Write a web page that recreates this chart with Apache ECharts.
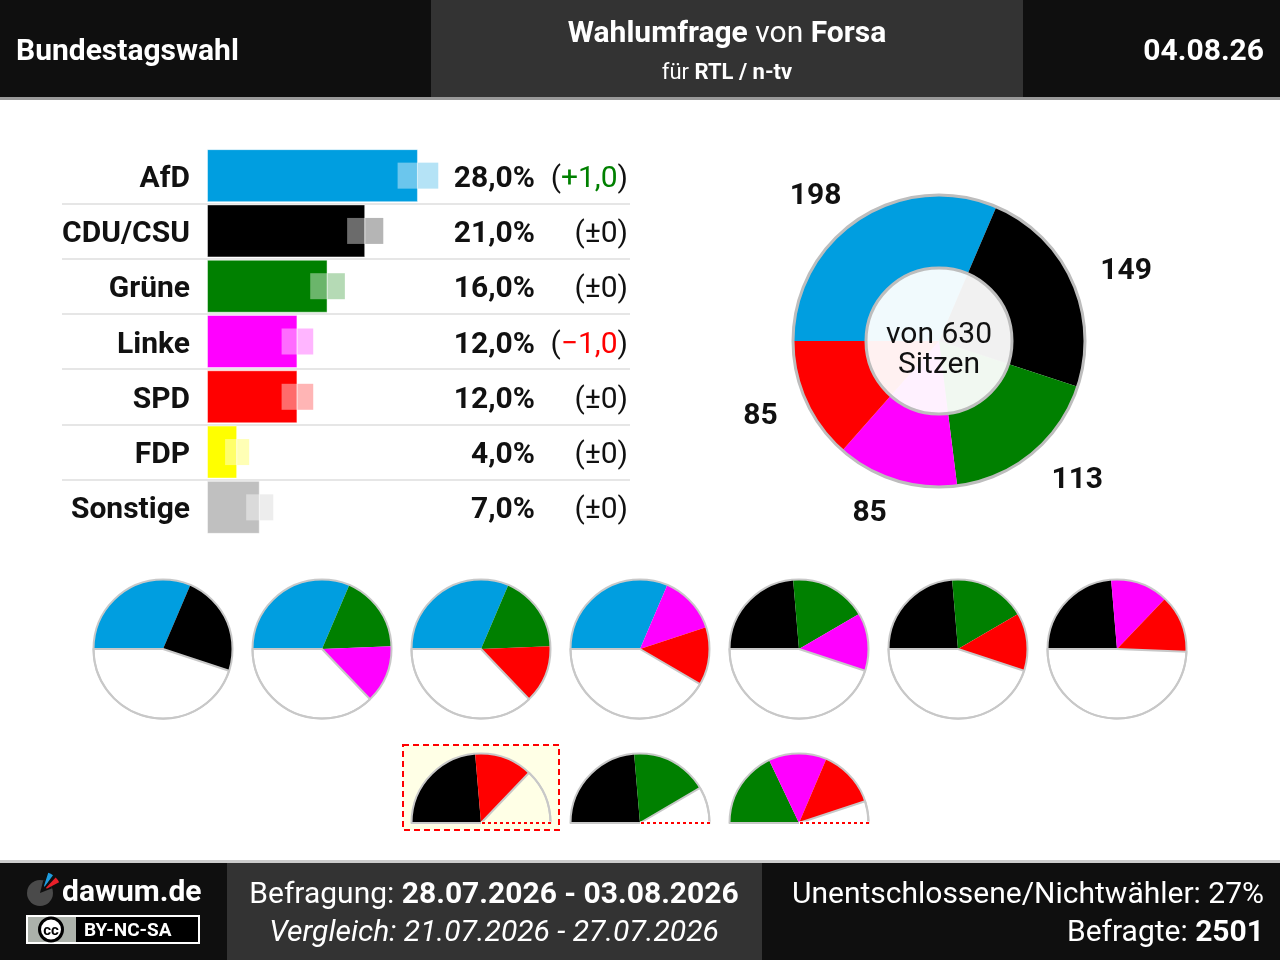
<!DOCTYPE html>
<html>
<head>
<meta charset="utf-8">
<title>Wahlumfrage Forsa</title>
<script src="https://cdn.jsdelivr.net/npm/echarts@6/dist/echarts.min.js"></script>
<style>
    html, body { margin: 0; padding: 0; background: #fff; }
    #main { width: 1280px; height: 960px; }
</style>
</head>
<body>
<div id="main"></div>
<script>
// umfragewerte
var parties = ['AfD', 'CDU/CSU', 'Grüne', 'Linke', 'SPD', 'FDP', 'Sonstige'];
var partyColors = ['#009ee0', '#000000', '#008000', '#ff00ff', '#ff0000', '#ffff00', '#c0c0c0'];
var values = [28, 21, 16, 12, 12, 4, 7];
var changes = [1, 0, 0, -1, 0, 0, 0];
var rangeLow = [25.3, 18.6, 13.7, 9.9, 9.9, 2.4, 5.2];
var rangeHigh = [30.7, 23.4, 18.3, 14.1, 14.1, 5.6, 8.8];

// sitzverteilung
var seatParties = ['AfD', 'CDU/CSU', 'Grüne', 'Linke', 'SPD'];
var seats = [198, 149, 113, 85, 85];
var totalSeats = 630;

// koalitionen mit mehrheit / ohne mehrheit
var coalitions = [
    ['AfD', 'CDU/CSU'],
    ['AfD', 'Grüne', 'Linke'],
    ['AfD', 'Grüne', 'SPD'],
    ['AfD', 'Linke', 'SPD'],
    ['CDU/CSU', 'Grüne', 'Linke'],
    ['CDU/CSU', 'Grüne', 'SPD'],
    ['CDU/CSU', 'Linke', 'SPD']
];
var minorityCoalitions = [
    ['CDU/CSU', 'SPD'],
    ['CDU/CSU', 'Grüne'],
    ['Grüne', 'Linke', 'SPD']
];
var currentGov = 0;

// kopf / fuss
var pollDate = '04.08.26';
var institute = 'Forsa';
var client = 'RTL / n-tv';
var surveyPeriod = '28.07.2026 - 03.08.2026';
var comparePeriod = '21.07.2026 - 27.07.2026';
var undecided = '27%';
var respondents = '2501';

var FONT = 'Roboto';
var FS = 30;
var myChart = echarts.init(document.getElementById('main'));

function colorOf(name) {
    return partyColors[parties.indexOf(name)];
}
function seatsOf(name) {
    return seats[seatParties.indexOf(name)];
}
function fmt(v) {
    return v.toFixed(1).replace('.', ',');
}

// kleine kuchen
var pieSeries = [];
var overlay = [];
var R = 69.5;

function coalitionPie(members, cx, cy, half, highlight) {
    var sum = 0;
    var data = members.map(function (m) {
        sum += seatsOf(m);
        return {name: m, value: seatsOf(m), itemStyle: {color: colorOf(m)}};
    });
    var full = half ? totalSeats / 2 : totalSeats;
    data.push({
        name: 'rest', value: Math.max(full - sum, 0),
        itemStyle: {color: 'rgba(0,0,0,0)', borderColor: '#c8c8c8', borderWidth: 2}
    });
    var base = {
        type: 'pie', silent: true, center: [cx, cy], radius: [0, R],
        startAngle: 180, clockwise: true,
        label: {show: false}, labelLine: {show: false}, emphasis: {disabled: true}
    };
    if (half) base.endAngle = 0;
    pieSeries.push(Object.assign({}, base, {data: data}));
    pieSeries.push(Object.assign({}, base, {
        data: [{value: 1, itemStyle: {color: 'rgba(0,0,0,0)', borderColor: '#c8c8c8', borderWidth: 2}}]
    }));
    if (half) {
        overlay.push({
            type: 'line', z: 10,
            shape: {x1: cx, y1: cy, x2: cx + R + 1, y2: cy},
            style: {stroke: highlight ? '#ffffe6' : '#fff', lineWidth: 3}
        });
        overlay.push({
            type: 'line', z: 11,
            shape: {x1: cx + 1, y1: cy, x2: cx + R + 1, y2: cy},
            style: {stroke: '#ff0000', lineWidth: 2, lineDash: [3, 3]}
        });
    }
}

coalitions.forEach(function (c, i) {
    coalitionPie(c, 163 + i * 159, 649, false, false);
});
minorityCoalitions.forEach(function (c, i) {
    coalitionPie(c, 481 + i * 159, 823, true, i === currentGov);
});

var seatData = seats.map(function (s, i) {
    return {name: seatParties[i], value: s, itemStyle: {color: colorOf(seatParties[i])}};
});
var seatCenter = [939, 341];

var labelRich = {
    n: {fontFamily: FONT, fontSize: FS, fontWeight: 'bold', color: '#111', padding: [7, 0, 0, 0]},
    p: {fontFamily: FONT, fontSize: FS, color: '#111', padding: [7, 0, 0, 0]},
    g: {fontFamily: FONT, fontSize: FS, color: '#008000', padding: [7, 0, 0, 0]},
    r: {fontFamily: FONT, fontSize: FS, color: '#ff0000', padding: [7, 0, 0, 0]}
};

var option = {
    animation: false,
    backgroundColor: '#fff',
    grid: {left: 62, right: 650, top: 148, height: 387},
    xAxis: {
        type: 'value', min: -19.25, max: 56.15, show: false
    },
    yAxis: [
        {
            type: 'category', data: parties, inverse: true, position: 'left', offset: -128,
            axisLine: {show: false}, axisTick: {show: false},
            axisLabel: {
                margin: 0, rich: labelRich,
                formatter: function (v) {
                    return '{n|' + v + '}';
                }
            },
            splitLine: {show: true, showMinLine: false, showMaxLine: false,
                lineStyle: {color: '#e6e6e6', width: 2}}
        },
        {
            type: 'category', data: parties, inverse: true, position: 'left', offset: -473,
            axisLine: {show: false}, axisTick: {show: false}, splitLine: {show: false},
            axisLabel: {
                margin: 0, rich: labelRich,
                formatter: function (v, i) {
                    return '{n|' + fmt(values[i]) + '%}';
                }
            }
        },
        {
            type: 'category', data: parties, inverse: true, position: 'left', offset: -566,
            axisLine: {show: false}, axisTick: {show: false}, splitLine: {show: false},
            axisLabel: {
                margin: 0, rich: labelRich,
                formatter: function (v, i) {
                    var c = changes[i];
                    if (c === 0) return '{p|(±0)}';
                    if (c > 0) return '{p|(}{g|+' + fmt(c) + '}{p|)}';
                    return '{p|(}{r|\u2212' + fmt(-c) + '}{p|)}';
                }
            }
        }
    ],
    graphic: [],
    series: [
        {
            type: 'bar', barWidth: 53, silent: true,
            data: values.map(function (v, i) {
                return {value: v, itemStyle: {color: partyColors[i]}};
            }),
            itemStyle: {borderColor: 'rgba(255,255,255,0.45)', borderWidth: 1}
        },
        {
            type: 'custom', silent: true,
            data: parties.map(function (p, i) {
                return [i, rangeLow[i], values[i], rangeHigh[i]];
            }),
            encode: {y: 0, x: [1, 2, 3]},
            renderItem: function (params, api) {
                var idx = api.value(0);
                var lo = api.coord([api.value(1), idx]);
                var mid = api.coord([api.value(2), idx]);
                var hi = api.coord([api.value(3), idx]);
                var h = 26;
                return {
                    type: 'group', children: [
                        {type: 'rect', shape: {x: lo[0], y: lo[1] - h / 2, width: mid[0] - lo[0], height: h},
                            style: {fill: 'rgba(255,255,255,0.42)'}},
                        {type: 'rect', shape: {x: mid[0], y: mid[1] - h / 2, width: hi[0] - mid[0], height: h},
                            style: {fill: echarts.color.modifyAlpha(partyColors[idx], 0.29)}}
                    ]
                };
            },
            z: 3
        },
        // sitze
        {
            type: 'pie', silent: true, center: seatCenter, radius: [0, 73], startAngle: 180,
            data: seatData, itemStyle: {opacity: 0.055},
            label: {show: false}, labelLine: {show: false}, emphasis: {disabled: true}
        },
        {
            type: 'pie', silent: true, center: seatCenter, radius: [73, 146], startAngle: 180,
            data: seatData, avoidLabelOverlap: false,
            label: {
                show: true, position: 'outside', alignTo: 'none', distanceToLabelLine: 0,
                formatter: '{s|{c}}',
                rich: {s: {fontFamily: FONT, fontSize: FS, fontWeight: 'bold', color: '#111', padding: [6, 0, 0, 0]}}
            },
            labelLine: {show: false, length: 31, length2: 0},
            emphasis: {disabled: true}
        },
        {
            type: 'pie', silent: true, center: seatCenter, radius: [0, 146],
            data: [{value: 1, itemStyle: {color: 'rgba(0,0,0,0)', borderColor: '#bdbdbd', borderWidth: 3}}],
            label: {show: false}, labelLine: {show: false}, emphasis: {disabled: true}
        },
        {
            type: 'pie', silent: true, center: seatCenter, radius: [0, 73],
            data: [{value: 1, itemStyle: {color: 'rgba(0,0,0,0)', borderColor: '#bdbdbd', borderWidth: 3}}],
            label: {show: false}, labelLine: {show: false}, emphasis: {disabled: true}
        }
    ].concat(pieSeries)
};

var mb = 860;
var boldRich = {b: {fontFamily: FONT, fontSize: FS, fontWeight: 'bold', fill: '#fff'}};
option.graphic = [
    // kopf
    {type: 'rect', shape: {x: 0, y: 0, width: 1280, height: 97}, style: {fill: '#0f0f0f'}},
    {type: 'rect', shape: {x: 431, y: 0, width: 592, height: 97}, style: {fill: '#333333'}},
    {type: 'rect', shape: {x: 0, y: 97, width: 1280, height: 3}, style: {fill: '#999999'}},
    {type: 'text', x: 16, y: 52, style: {text: 'Bundestagswahl', fill: '#fff',
        font: 'bold ' + FS + 'px ' + FONT, verticalAlign: 'middle'}},
    {type: 'text', x: 727, y: 34, style: {
        text: '{b|Wahlumfrage} von {b|' + institute + '}', fill: '#fff', align: 'center', verticalAlign: 'middle',
        fontFamily: FONT, fontSize: FS, rich: boldRich
    }},
    {type: 'text', x: 727, y: 73, style: {
        text: 'für {b|' + client + '}', fill: '#fff', align: 'center', verticalAlign: 'middle',
        fontFamily: FONT, fontSize: 22, rich: {b: {fontFamily: FONT, fontSize: 22, fontWeight: 'bold', fill: '#fff'}}
    }},
    {type: 'text', x: 1264, y: 52, style: {text: pollDate, fill: '#fff',
        font: 'bold ' + FS + 'px ' + FONT, align: 'right', verticalAlign: 'middle'}},

    // mitte text
    {type: 'text', x: seatCenter[0], y: seatCenter[1] + 9, z: 20, style: {
        text: 'von ' + totalSeats + '\nSitzen', fill: '#111', align: 'center', verticalAlign: 'middle',
        font: FS + 'px ' + FONT, lineHeight: 30
    }},

    // regierung box
    {type: 'rect', shape: {x: 403, y: 745, width: 156, height: 85},
        style: {fill: '#ffffe6', stroke: '#ff0000', lineWidth: 2, lineDash: [6, 4]}},

    // fuss
    {type: 'rect', shape: {x: 0, y: mb, width: 1280, height: 3}, style: {fill: '#cccccc'}},
    {type: 'rect', shape: {x: 0, y: mb + 3, width: 1280, height: 97}, style: {fill: '#0f0f0f'}},
    {type: 'rect', shape: {x: 227, y: mb + 3, width: 535, height: 97}, style: {fill: '#333333'}},
    {type: 'circle', shape: {cx: 40, cy: 893, r: 13}, style: {fill: '#4a4a4a'}},
    {type: 'sector', shape: {cx: 40, cy: 893, r: 13, r0: 0, startAngle: -Math.PI * 0.42, endAngle: -Math.PI * 0.12},
        style: {fill: '#0f0f0f'}},
    {type: 'sector', shape: {cx: 43, cy: 889, r: 17, r0: 3, startAngle: -Math.PI * 0.40, endAngle: -Math.PI * 0.30},
        style: {fill: '#1e9de0'}},
    {type: 'sector', shape: {cx: 44, cy: 890, r: 17, r0: 3, startAngle: -Math.PI * 0.26, endAngle: -Math.PI * 0.15},
        style: {fill: '#e8202a'}},
    {type: 'text', x: 62, y: 893, style: {text: 'dawum.de', fill: '#fff',
        font: 'bold ' + FS + 'px ' + FONT, verticalAlign: 'middle'}},
    {type: 'rect', shape: {x: 27, y: 916, width: 172, height: 27}, style: {fill: '#000', stroke: '#fff', lineWidth: 2}},
    {type: 'rect', shape: {x: 28, y: 917, width: 48, height: 25}, style: {fill: '#abb1aa'}},
    {type: 'circle', shape: {cx: 51, cy: 929.5, r: 11.5}, style: {fill: '#fff', stroke: '#000', lineWidth: 3}},
    {type: 'text', x: 51, y: 931, style: {text: 'cc', fill: '#000', font: 'bold 15px ' + FONT,
        align: 'center', verticalAlign: 'middle'}},
    {type: 'text', x: 84, y: 931, style: {text: 'BY-NC-SA', fill: '#fff', font: 'bold 19px ' + FONT,
        verticalAlign: 'middle'}},
    {type: 'text', x: 494, y: 895, style: {
        text: 'Befragung: {b|' + surveyPeriod + '}', fill: '#fff', align: 'center', verticalAlign: 'middle',
        fontFamily: FONT, fontSize: FS, rich: boldRich
    }},
    {type: 'text', x: 494, y: 933, style: {
        text: 'Vergleich: ' + comparePeriod, fill: '#fff', align: 'center', verticalAlign: 'middle',
        font: 'italic ' + FS + 'px ' + FONT
    }},
    {type: 'text', x: 1264, y: 895, style: {
        text: 'Unentschlossene/Nichtwähler: ' + undecided, fill: '#fff', align: 'right', verticalAlign: 'middle',
        font: FS + 'px ' + FONT
    }},
    {type: 'text', x: 1264, y: 933, style: {
        text: 'Befragte: {b|' + respondents + '}', fill: '#fff', align: 'right', verticalAlign: 'middle',
        fontFamily: FONT, fontSize: FS, rich: boldRich
    }}
].concat(overlay);

myChart.setOption(option);
</script>
</body>
</html>
